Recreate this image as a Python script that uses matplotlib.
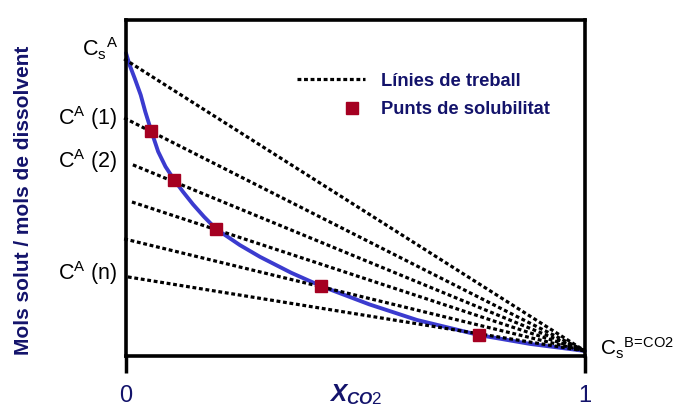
import matplotlib
matplotlib.use("Agg")
import matplotlib.pyplot as plt
from matplotlib.lines import Line2D
from matplotlib.legend_handler import HandlerLine2D

# solubility curve (mole fraction of CO2 vs. mol solute / mol solvent)
curve_x = [0.0, 0.008, 0.019, 0.032, 0.042, 0.055, 0.070, 0.086, 0.105, 0.124, 0.146,
           0.170, 0.196, 0.248, 0.292, 0.36, 0.425, 0.53, 0.634, 0.769, 0.88, 1.0]
curve_y = [1.01, 0.969, 0.924, 0.868, 0.811, 0.746, 0.676, 0.625, 0.580, 0.540, 0.497,
           0.455, 0.414, 0.359, 0.319, 0.265, 0.220, 0.158, 0.105, 0.054, 0.024, 0.0]

# solubility points
sol_x = [0.055, 0.105, 0.196, 0.425, 0.769]
sol_y = [0.746, 0.580, 0.414, 0.220, 0.054]

# working lines: start points, all end at pure CO2
work_x0 = [-0.004, -0.004, 0.015, 0.013, -0.004, 0.004]
work_y0 = [0.99, 0.79, 0.631, 0.505, 0.380, 0.251]
end_x, end_y = 1.0, 0.0

# labels on the y axis: (text, y of the line it names, vertical shift in points)
left_labels = [(r"$\mathrm{C_s{}^A}$", 0.99, 7),
               (r"$\mathrm{C^A}$ (1)", 0.79, 0),
               (r"$\mathrm{C^A}$ (2)", 0.631, 3),
               (r"$\mathrm{C^A}$ (n)", 0.251, 3)]

navy = "#13136b"
blue = "#3b3bcf"
red = "#a50021"

plt.rcParams["font.family"] = ["Liberation Sans", "DejaVu Sans"]
plt.rcParams["mathtext.fontset"] = "custom"
plt.rcParams["mathtext.rm"] = "Liberation Sans"
plt.rcParams["mathtext.it"] = "Liberation Sans:italic:bold"
plt.rcParams["mathtext.bf"] = "Liberation Sans:bold"


class RightMarker(HandlerLine2D):
    # move the single legend marker towards the right end of the handle
    def create_artists(self, legend, orig_handle, xdescent, ydescent,
                       width, height, fontsize, trans):
        arts = super().create_artists(legend, orig_handle, xdescent, ydescent,
                                      width, height, fontsize, trans)
        for a in arts:
            x = a.get_xdata()
            a.set_xdata([x[0], x[0] + 0.81 * (x[-1] - x[0]), x[-1]])
        return arts


fig = plt.figure(figsize=(6.8, 4.08), dpi=100)
ax = fig.add_axes([0.1853, 0.1275, 0.675, 0.8235])

ax.plot(curve_x, curve_y, color=blue, lw=2.8, zorder=2, clip_on=False,
        solid_capstyle="round")

for x0, y0 in zip(work_x0, work_y0):
    ax.plot([x0, end_x], [y0, end_y], color="black", lw=2.3,
            dashes=(1.2, 0.85), zorder=3, clip_on=False)

ax.plot(sol_x, sol_y, ls="none", marker="s", ms=8.6, color=red, zorder=4)

for txt, yv, dy in left_labels:
    ax.annotate(txt, xy=(0, yv), xytext=(-6, dy), textcoords="offset points",
                ha="right", va="center", fontsize=15.5, color="black")
ax.annotate(r"$\mathrm{C_s{}^{B\!=\!CO2}}$", xy=(end_x, end_y), xytext=(11, 2),
            textcoords="offset points", ha="left", va="center",
            fontsize=15, color="black", annotation_clip=False)

ax.set_xlim(0, 1)
ax.set_ylim(-0.017, 1.122)
ax.set_xticks([0, 1])
ax.set_xticklabels(["0", "1"])
ax.set_yticks([])
ax.tick_params(axis="x", direction="out", length=12, width=2.5, pad=9,
               labelsize=17, labelcolor=navy)
for s in ax.spines.values():
    s.set_linewidth(2.6)

ax.set_xlabel(r"$\mathit{X_{CO2}}$", fontsize=17.5, color=navy)
ax.xaxis.set_label_coords(0.501, -0.077)
ax.set_ylabel("Mols solut / mols de dissolvent", fontsize=15,
              fontweight="bold", color=navy)
ax.yaxis.set_label_coords(-0.203, 0.464)

h_line = Line2D([], [], color="black", lw=2.3, dashes=(1.2, 0.85))
h_pt = Line2D([], [], ls="none", marker="s", ms=8.6, color=red)
leg = ax.legend([h_line, h_pt], ["Línies de treball", "Punts de solubilitat"],
                loc="upper left", bbox_to_anchor=(0.3725, 0.843), frameon=False,
                borderpad=0, borderaxespad=0, handlelength=3.7,
                handletextpad=0.87, labelspacing=0.62, numpoints=1,
                prop={"size": 13.2, "weight": "bold"},
                handler_map={h_pt: RightMarker(numpoints=1)})
for t in leg.get_texts():
    t.set_color(navy)

fig.savefig("out.png", dpi=100)
